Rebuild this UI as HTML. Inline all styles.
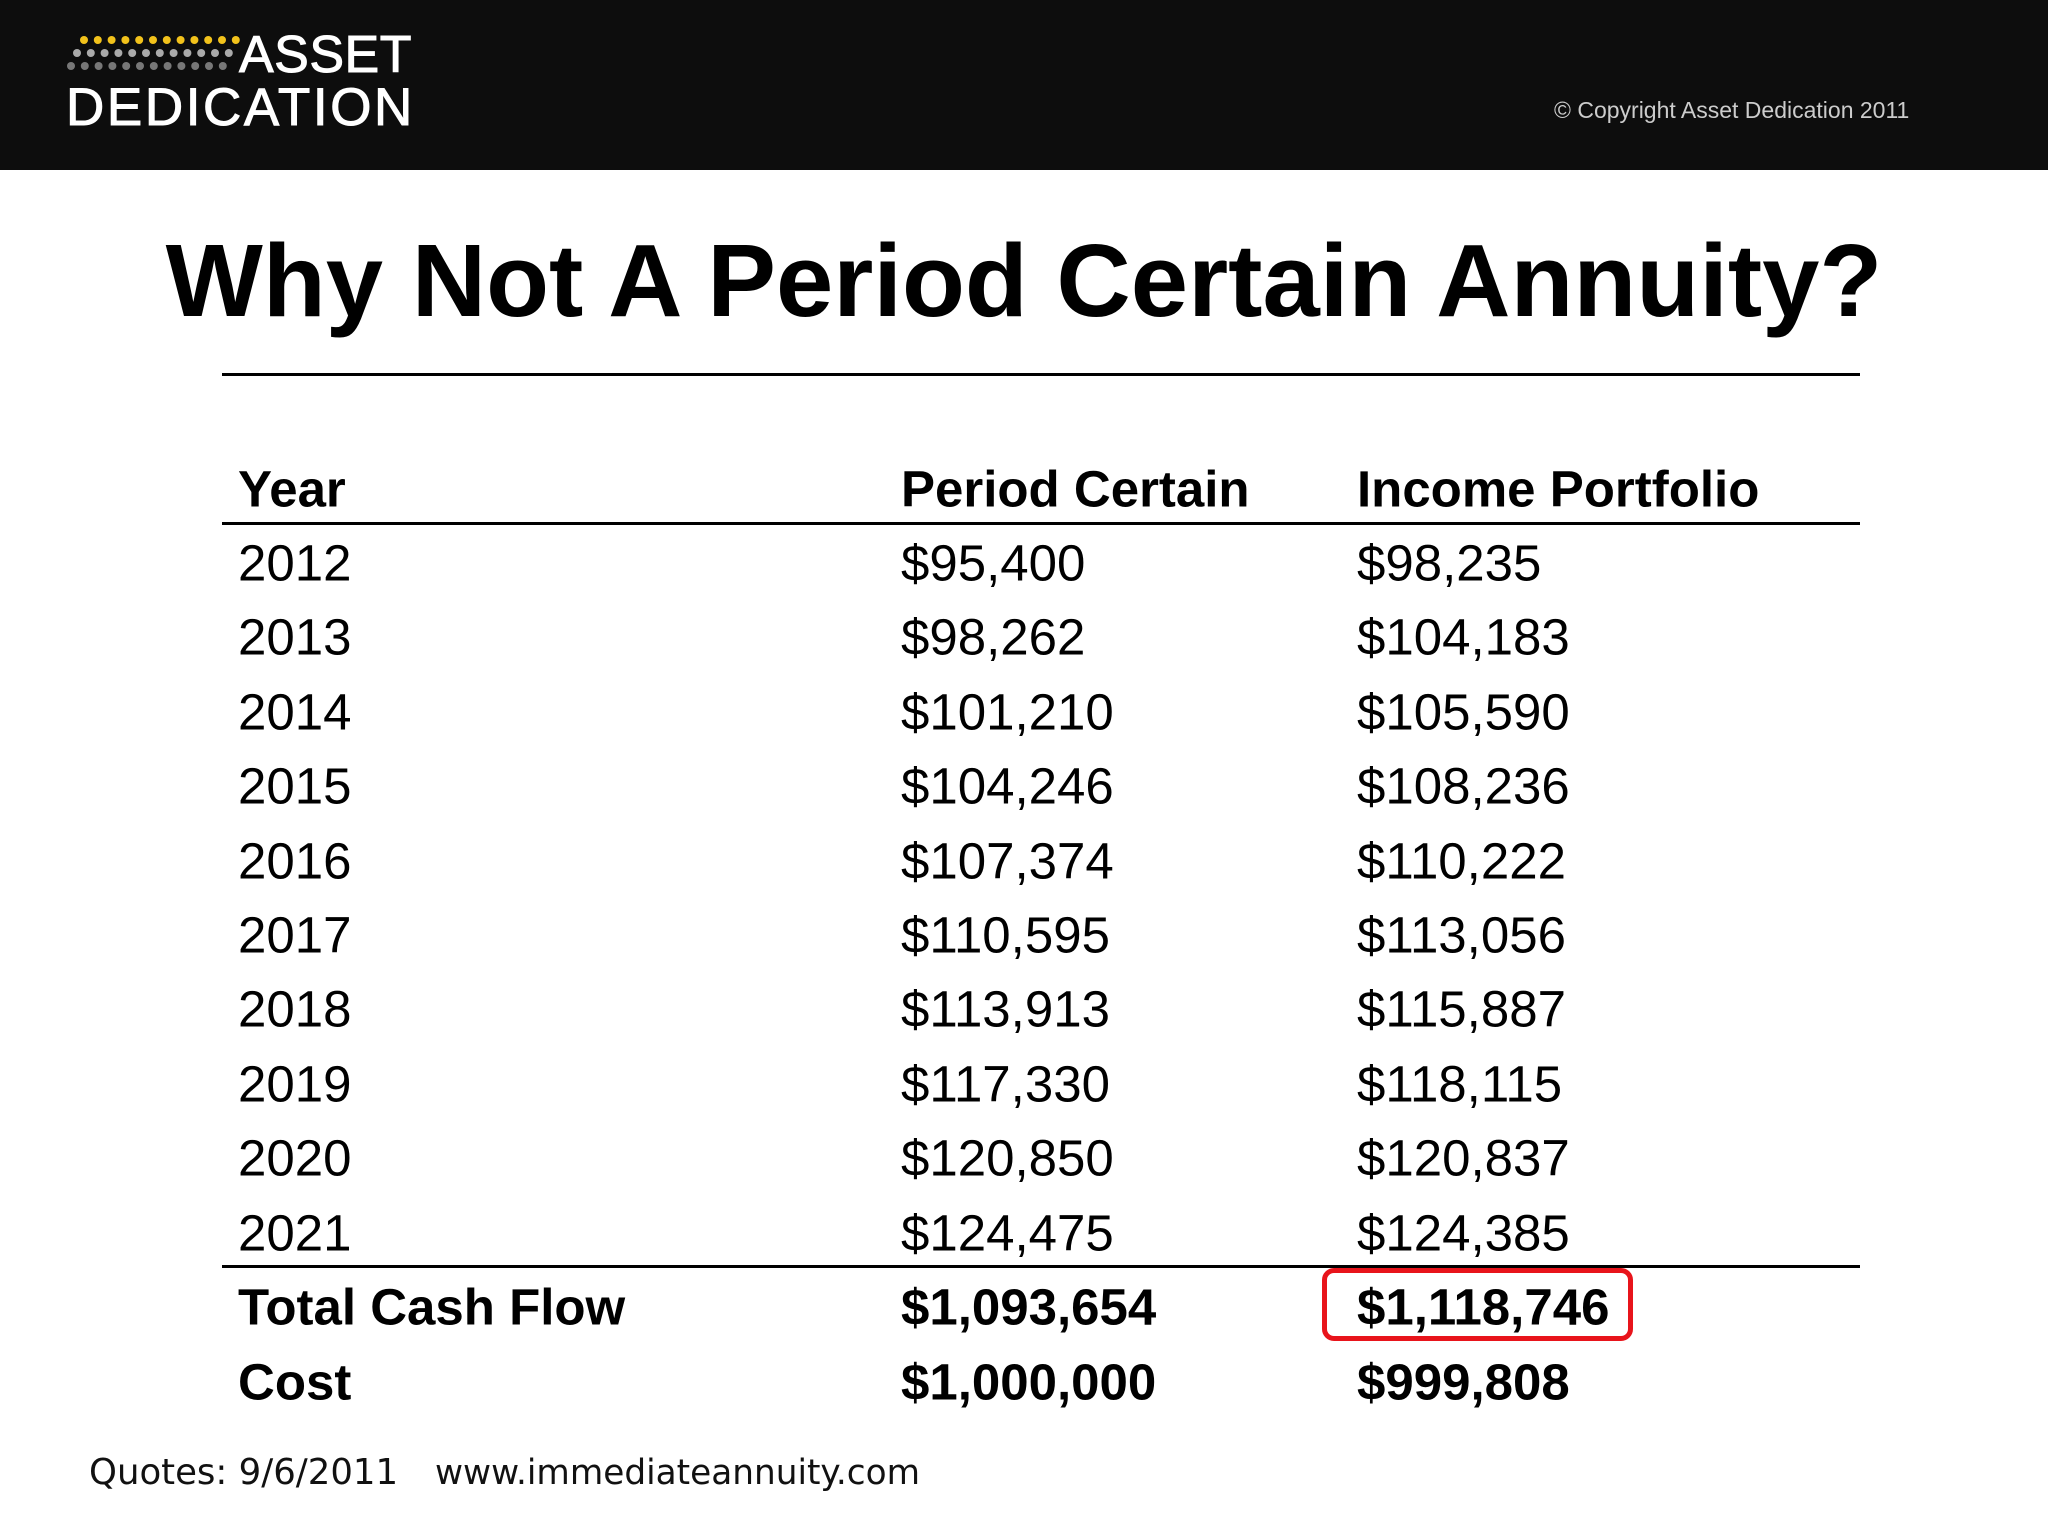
<!DOCTYPE html>
<html><head><meta charset="utf-8"><style>
body{margin:0;width:2048px;height:1536px;background:#fff;position:relative;overflow:hidden;font-family:"Liberation Sans",Arial,sans-serif;color:#000}
.a{position:absolute;white-space:nowrap}
.rule{position:absolute;left:222px;width:1638px;background:#000}
.c{position:absolute;font-size:51px;line-height:1;transform:translateY(-50%)}
.b{font-weight:bold}
</style></head><body>
<div class="a" style="left:0;top:0;width:2048px;height:170px;background:#0d0d0d"></div>
<svg class="a" style="left:0;top:0" width="420" height="170" id="logo"></svg>
<div class="a" style="left:239px;top:29px;font-size:52px;color:#fff;letter-spacing:0.5px;line-height:1;-webkit-text-stroke:1px #fff">ASSET</div>
<div class="a" style="left:66px;top:81px;font-size:53px;color:#fff;letter-spacing:2.6px;line-height:1;-webkit-text-stroke:1px #fff">DEDICATION</div>
<div class="a" style="left:1554px;top:97px;font-size:23px;color:#ccc">© Copyright Asset Dedication 2011</div>
<div class="a b" style="left:0;width:2048px;text-align:center;top:229px;font-size:103px;line-height:1">Why Not A Period Certain Annuity?</div>
<div class="rule" style="top:373px;height:3px"></div>
<div class="rule" style="top:522px;height:3px"></div>
<div class="rule" style="top:1265px;height:3px"></div>
<div class="a" style="left:1322px;top:1268px;width:301px;height:63px;border:5px solid #e8141b;border-radius:12px"></div>
<div id="tbl"></div>
<div class="a" style="left:89px;top:1452px;font-family:'DejaVu Sans',sans-serif;font-size:35.5px;color:#111">Quotes: 9/6/2011</div>
<div class="a" style="left:435px;top:1453px;font-family:'DejaVu Sans',sans-serif;font-size:34.3px;color:#111">www.immediateannuity.com</div>
<script>
const years=["2012","2013","2014","2015","2016","2017","2018","2019","2020","2021"];
const periodCertain=["$95,400","$98,262","$101,210","$104,246","$107,374","$110,595","$113,913","$117,330","$120,850","$124,475"];
const incomePortfolio=["$98,235","$104,183","$105,590","$108,236","$110,222","$113,056","$115,887","$118,115","$120,837","$124,385"];
const totals=["Total Cash Flow","$1,093,654","$1,118,746"];
const costs=["Cost","$1,000,000","$999,808"];
const headers=["Year","Period Certain","Income Portfolio"];
const colX=[238,901,1357];
const tbl=document.getElementById('tbl');
function cell(txt,x,y,bold,name){
 const d=document.createElement('div');
 d.className='c'+(bold?' b':'');
 d.style.left=x+'px';d.style.top=y+'px';
 d.textContent=txt;
 
 
 tbl.appendChild(d);
}
headers.forEach((h,i)=>cell(h,colX[i],489,true,'column-header'));
years.forEach((y,r)=>{
 const yy=563+r*74.4;
 cell(y,colX[0],yy,false,'year-cell');
 cell(periodCertain[r],colX[1],yy,false,'period-certain-cell');
 cell(incomePortfolio[r],colX[2],yy,false,'income-portfolio-cell');
});
totals.forEach((t,i)=>cell(t,colX[i],1307,true,'total-cell'));
costs.forEach((t,i)=>cell(t,colX[i],1382,true,'cost-cell'));
const svg=document.getElementById('logo');
const rows=[{y:40,x0:84,fill:'#f2c21b'},{y:53,x0:77,fill:'#aaa'},{y:66,x0:71,fill:'#777'}];
rows.forEach(r=>{for(let i=0;i<12;i++){
 const c=document.createElementNS('http://www.w3.org/2000/svg','circle');
 c.setAttribute('cx',r.x0+i*13.8);c.setAttribute('cy',r.y);c.setAttribute('r',4);c.setAttribute('fill',r.fill);
 
 
 svg.appendChild(c);}});
</script>
</body></html>
